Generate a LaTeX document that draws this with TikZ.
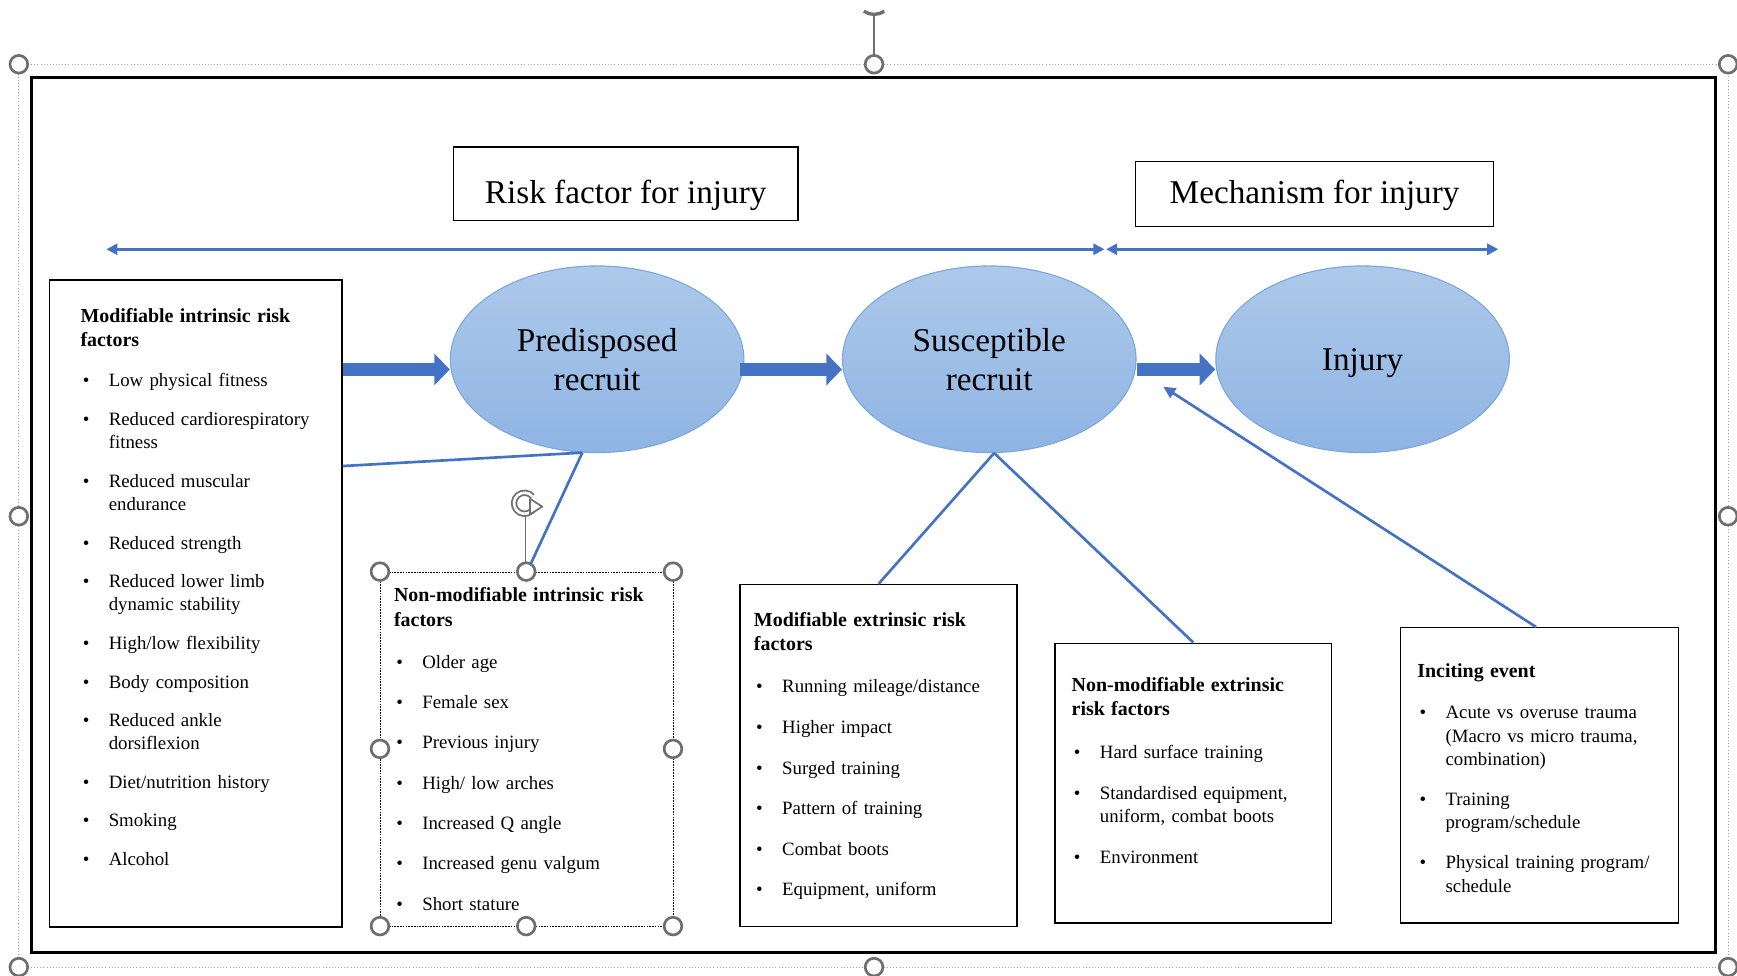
\documentclass[tikz,border=0pt]{standalone}
\usepackage{fontspec}
\setmainfont{Liberation Serif}
\usetikzlibrary{arrows.meta,shapes.geometric,calc}
\definecolor{lineblue}{HTML}{4472C4}
\definecolor{arrowblue}{HTML}{4472C4}
\definecolor{elltop}{HTML}{ADC9EA}
\definecolor{ellbot}{HTML}{8FB4E3}
\definecolor{ellborder}{HTML}{7AA7DD}
\definecolor{handlegray}{HTML}{6E6E6E}
\definecolor{selgray}{HTML}{A0A0A0}
\newcommand{\itm}[1]{\par\hangindent=25.5pt\hangafter=1\noindent\makebox[25.5pt][l]{\hspace{2pt}•}#1}
\newcommand{\hd}[1]{{\fontsize{18}{22}\selectfont\bfseries #1\par}\vspace{1.5pt}}
\tikzset{
  boxrect/.style={draw=black, line width=1.3pt, fill=white, inner sep=0pt, anchor=north west},
  dashbox/.style={draw=black, line width=1.2pt, dash pattern=on 1.5pt off 1pt, fill=white, inner sep=0pt, anchor=north west},
  listtext/.style={anchor=base west, inner sep=0pt, text width=#1, align=left, font=\fontsize{17}{21}\selectfont},
  ellnode/.style={ellipse, minimum width=265pt, minimum height=168.5pt, inner sep=0pt, draw=ellborder, line width=1pt, top color=elltop, bottom color=ellbot, align=center, font=\fontsize{30}{35}\selectfont},
  titlebox/.style={draw=black, line width=1.3pt, fill=white, inner sep=0pt, font=\fontsize{30}{36}\selectfont},
  conn/.style={draw=lineblue, line width=2.4pt},
  blockarr/.style={draw=arrowblue, line width=12pt, -{Triangle[length=14pt,width=28pt]}},
  handle/.style={draw=handlegray, line width=2.4pt, fill=white},
  selline/.style={draw=selgray, line width=0.8pt, dotted},
  roticon/.style={draw=handlegray, line width=1.6pt, double=white, double distance=2.4pt},
}
\begin{document}
\begin{tikzpicture}[x=1pt, y=-1pt]
\useasboundingbox (0,0) rectangle (1568,881);
\fill[white] (0,0) rectangle (1568,881);

% selection outline of the whole picture
\draw[selline] (17,58) rectangle (1560,873);
\draw[handlegray, line width=1pt] (789,12) -- (789,50);
\draw[handlegray, line width=3pt] ($(789,-3)+(55:16)$) arc[start angle=55, end angle=125, radius=16];

% black frame
\draw[black, line width=3pt] (28.5,70) rectangle (1548.5,860);

% titles
\node[titlebox, minimum width=311pt, minimum height=66.5pt, text height=38pt, text depth=3pt] (rf) at (564.8,165.8) {Risk factor for injury};
\node[titlebox, minimum width=323pt, minimum height=58.6pt, text height=21pt, text depth=4pt] (mf) at (1186.7,175.3) {Mechanism for injury};

% horizontal double arrows
\coordinate (hl) at (96,225);
\coordinate (hm1) at (997,225);
\coordinate (hm2) at (998.5,225);
\coordinate (hr) at (1352.5,225);
\draw[conn, {Triangle[length=10pt,width=10pt]}-{Triangle[length=10pt,width=10pt]}] (hl) -- (hm1);
\draw[conn, {Triangle[length=10pt,width=10pt]}-{Triangle[length=10pt,width=10pt]}] (hm2) -- (hr);

% boxes
\node[boxrect, minimum width=264pt, minimum height=584pt] (b1) at (44,252) {};
\node[dashbox, minimum width=264.5pt, minimum height=320pt] (b2) at (343,516) {};
\node[boxrect, minimum width=250pt, minimum height=308.5pt] (b3) at (667.5,527) {};
\node[boxrect, minimum width=250pt, minimum height=252.5pt] (b4) at (951.5,580) {};
\node[boxrect, minimum width=251pt, minimum height=266.5pt] (b5) at (1263.5,566) {};

% ellipses
\node[ellnode] (e1) at (539,324.3) {Predisposed\\recruit};
\node[ellnode] (e2) at (893,324.3) {Susceptible\\recruit};
\node[ellnode, text height=20pt, text depth=0pt] (e3) at (1230,324.3) {Injury};

% thin connectors
\coordinate (c1) at ($(b1.north east)+(0,168.7)$);
\coordinate (tip) at (1050,349);
\draw[conn] (c1) -- (e1.-99.5);
\draw[conn] (e1.-99.5) -- (b2.north);
\draw[conn] (e2.-87) -- (b3.north);
\draw[conn] (e2.-87) -- (b4.north);
\draw[conn, -{Triangle[length=11pt,width=10pt]}] ($(b5.north)+(-3,0)$) -- (tip);

% block arrows
\coordinate (ya) at (0,333.5);
\draw[blockarr] (b1.east |- ya) -- (e1.west |- ya);
\draw[blockarr] ($(e1.east |- ya)+(-4,0)$) -- (e2.west |- ya);
\draw[blockarr] (e2.east |- ya) -- (e3.west |- ya);

% list texts
\node[listtext=230pt] (t1) at (72.5,291) {\setlength{\parskip}{13.8pt}%
\hd{Modifiable intrinsic risk\\factors}%
\itm{Low physical fitness}%
\itm{Reduced cardiorespiratory\newline fitness}%
\itm{Reduced muscular\newline endurance}%
\itm{Reduced strength}%
\itm{Reduced lower limb\newline dynamic stability}%
\itm{High/low flexibility}%
\itm{Body composition}%
\itm{Reduced ankle\newline dorsiflexion}%
\itm{Diet/nutrition history}%
\itm{Smoking}%
\itm{Alcohol}\par};

\node[listtext=245pt] (t2) at (355.5,543.4) {\setlength{\parskip}{15.4pt}%
\hd{Non-modifiable intrinsic risk\\factors}%
\itm{Older age}%
\itm{Female sex}%
\itm{Previous injury}%
\itm{High/ low arches}%
\itm{Increased Q angle}%
\itm{Increased genu valgum}%
\itm{Short stature}\par};

\node[listtext=232pt] (t3) at (680.4,565.4) {\setlength{\parskip}{15.6pt}%
\hd{Modifiable extrinsic risk\\factors}%
\itm{Running mileage/distance}%
\itm{Higher impact}%
\itm{Surged training}%
\itm{Pattern of training}%
\itm{Combat boots}%
\itm{Equipment, uniform}\par};

\node[listtext=230pt] (t4) at (967.2,624.3) {\setlength{\parskip}{15.8pt}%
\hd{Non-modifiable extrinsic\\risk factors}%
\itm{Hard surface training}%
\itm{Standardised equipment,\newline uniform, combat boots}%
\itm{Environment}\par};

\node[listtext=230pt] (t5) at (1279.2,611.2) {\setlength{\parskip}{15.2pt}%
\hd{Inciting event}%
\itm{Acute vs overuse trauma\newline (Macro vs micro trauma,\newline combination)}%
\itm{Training\newline program/schedule}%
\itm{Physical training program/\newline schedule}\par};

% selection handles of the whole picture
\foreach \hx/\hy in {17/58, 789/58, 1560/58, 17/466, 1560/466, 17/873, 789/873, 1560/873}
  \draw[handle] (\hx,\hy) circle[radius=8];

% selection handles and rotation icon of the dashed box
\draw[handlegray, line width=1pt] (474.5,466) -- (474.5,508);
\draw[roticon] ($(473.5,454.3)+(-40:9.5)$) arc[start angle=-40, end angle=-340, radius=9.5];
\draw[handlegray, line width=1.5pt, fill=white, line join=round] ($(473.5,454.3)+(5,-4)$) -- ($(473.5,454.3)+(5,10)$) -- ($(473.5,454.3)+(16,3)$) -- cycle;
\foreach \hx/\hy in {343/516, 475/516, 607.5/516, 343/676, 607.5/676, 343/836, 475/836, 607.5/836}
  \draw[handle] (\hx,\hy) circle[radius=8];
\end{tikzpicture}
\end{document}
